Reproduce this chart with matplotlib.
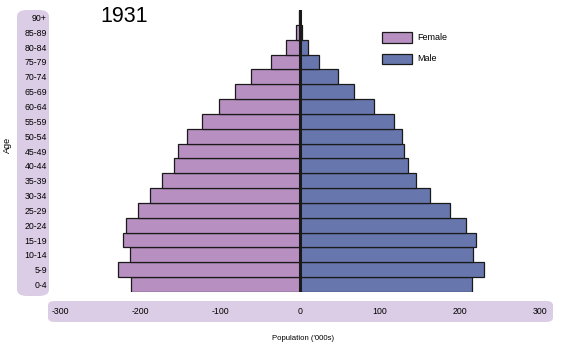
import matplotlib.pyplot as plt
from matplotlib.patches import FancyBboxPatch, Rectangle

plt.rcParams['font.family'] = ['Liberation Sans', 'DejaVu Sans']

# age groups, bottom to top
ages = ['0-4', '5-9', '10-14', '15-19', '20-24', '25-29', '30-34', '35-39',
        '40-44', '45-49', '50-54', '55-59', '60-64', '65-69', '70-74',
        '75-79', '80-84', '85-89', '90+']
# population in thousands
female = [211, 228, 212, 221, 217, 203, 188, 173, 158, 152, 141, 123, 101,
          81, 61, 36, 17, 5, 1]
male = [215, 230, 216, 220, 207, 188, 163, 145, 135, 130, 128, 117, 92,
        68, 47, 24, 10, 3, 0.5]
xticks = [-300, -200, -100, 0, 100, 200, 300]

female_col = '#b78fc0'
male_col = '#6777ad'
panel_col = '#dccde6'

W, H = 563, 352
fig = plt.figure(figsize=(W / 100, H / 100), dpi=100)

# lavender panels behind the tick labels
fig.patches.append(FancyBboxPatch((17 / W, 1 - 296 / H), 32 / W, 286 / H,
                                  boxstyle='round,pad=0,rounding_size=0.018',
                                  transform=fig.transFigure, fc=panel_col,
                                  ec='none', zorder=-5))
fig.patches.append(FancyBboxPatch((48 / W, 1 - 322 / H), 505 / W, 21 / H,
                                  boxstyle='round,pad=0,rounding_size=0.012',
                                  transform=fig.transFigure, fc=panel_col,
                                  ec='none', zorder=-5))

ax = fig.add_axes([60 / W, 1 - 292 / H, 480 / W, 282 / H])
ax.patch.set_alpha(0)
y = list(range(len(ages)))
ax.barh(y, [-v for v in female], height=1.0, color=female_col,
        edgecolor='#1a1a1a', linewidth=0.9)
ax.barh(y, male, height=1.0, color=male_col, edgecolor='#1a1a1a',
        linewidth=0.9)
ax.axvline(0, color='#1a1a1a', linewidth=2.2)

ax.set_xlim(-300, 300)
ax.set_ylim(-0.5, len(ages) - 0.5)
ax.set_xticks(xticks)
ax.set_xticklabels([str(t) for t in xticks])
ax.set_yticks(y)
ax.set_yticklabels(ages)
ax.tick_params(axis='x', length=0, pad=11, labelsize=6.3)
ax.tick_params(axis='y', length=0, pad=9.5, labelsize=6.3)
for s in ax.spines.values():
    s.set_visible(False)

fig.text(100 / W, 1 - 22 / H, '1931', fontsize=15.5, ha='left',
         va='baseline')
fig.text(7 / W, 1 - 145 / H, 'Age', rotation=90, fontsize=6.5,
         ha='center', va='center')
fig.text(303 / W, 1 - 339 / H, "Population ('000s)", fontsize=5.6,
         ha='center', va='center')

# legend
for i, (lab, col) in enumerate([('Female', female_col), ('Male', male_col)]):
    top = 32 + i * 21.5
    fig.patches.append(Rectangle((382 / W, 1 - (top + 10.5) / H), 30 / W,
                                 10.5 / H, transform=fig.transFigure,
                                 fc=col, ec='#1a1a1a', lw=0.9))
    fig.text(417 / W, 1 - (top + 5) / H, lab, fontsize=6.5, ha='left',
             va='center')

fig.savefig('out.png', dpi=100)
